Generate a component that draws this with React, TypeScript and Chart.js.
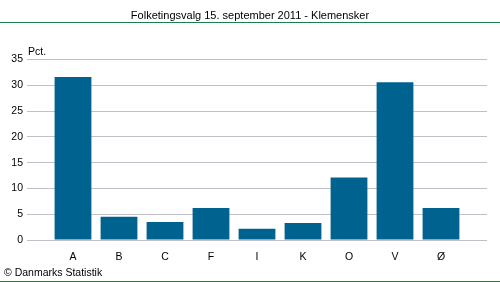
import React, { useEffect, useRef } from "react";
import { Chart, registerables } from "chart.js";

Chart.register(...registerables);

const categories = ["A", "B", "C", "F", "I", "K", "O", "V", "Ø"];
const values = [31.6, 4.5, 3.5, 6.2, 2.2, 3.3, 12.1, 30.6, 6.2];
const yTicks = [0, 5, 10, 15, 20, 25, 30, 35];
const titleText = "Folketingsvalg 15. september 2011 - Klemensker";
const unitText = "Pct.";
const sourceText = "© Danmarks Statistik";

const FONT = "'Liberation Sans', Arial, sans-serif";
const BAR = "#00638F";
const GRID = "#C0C0C8";
const GREEN = "#1A8048";

const decorPlugin = {
  id: "decor",
  afterDraw(chart: any) {
    const ctx = chart.ctx as CanvasRenderingContext2D;
    const w = chart.width;
    const h = chart.height;
    const area = chart.chartArea;
    ctx.save();
    ctx.fillStyle = "#000";
    ctx.font = `11px ${FONT}`;
    ctx.textAlign = "center";
    ctx.textBaseline = "alphabetic";
    ctx.fillText(titleText, w / 2, 19);
    ctx.strokeStyle = GREEN;
    ctx.lineWidth = 1;
    ctx.beginPath();
    ctx.moveTo(0, 22.5);
    ctx.lineTo(w, 22.5);
    ctx.moveTo(0, h - 0.5);
    ctx.lineTo(w, h - 0.5);
    ctx.stroke();
    ctx.font = `10.5px ${FONT}`;
    ctx.textAlign = "left";
    ctx.fillText(unitText, area.left + 1, 55);
    ctx.fillText(sourceText, 4, 275.5);
    ctx.restore();
  },
};

export default function App() {
  const ref = useRef<HTMLCanvasElement | null>(null);
  useEffect(() => {
    if (!ref.current) return;
    const chart = new Chart(ref.current, {
      type: "bar",
      data: {
        datasets: [
          {
            data: values.map((v, i) => ({ x: i, y: v })),
            backgroundColor: BAR,
            borderWidth: 0,
            barPercentage: 1,
            categoryPercentage: 0.8,
          },
        ],
      },
      options: {
        responsive: false,
        animation: false,
        devicePixelRatio: 1,
        layout: { padding: { top: 59.5, right: 13, left: 0, bottom: 0 } },
        plugins: {
          legend: { display: false },
          tooltip: { enabled: false },
          title: { display: false },
        },
        scales: {
          x: {
            type: "linear",
            offset: false,
            min: -1,
            max: categories.length,
            grid: { display: false, offset: false },
            border: { display: false },
            afterFit: (s: any) => {
              s.height = 42;
            },
            afterBuildTicks: (s: any) => {
              s.ticks = categories.map((_, i) => ({ value: i }));
            },
            ticks: {
              autoSkip: false,
              maxRotation: 0,
              padding: 3,
              color: "#000",
              font: { family: FONT, size: 10.5 },
              callback: (v: any) => categories[v as number] ?? "",
            },
          },
          y: {
            min: 0,
            max: 35,
            afterFit: (s: any) => {
              s.width = 27;
            },
            afterBuildTicks: (s: any) => {
              s.ticks = yTicks.map((v) => ({ value: v }));
            },
            grid: { color: GRID, drawTicks: false, lineWidth: 1 },
            border: { display: false },
            ticks: {
              padding: 4,
              color: "#000",
              font: { family: FONT, size: 10.5 },
            },
          },
        },
      },
      plugins: [decorPlugin],
    } as any);
    return () => chart.destroy();
  }, []);
  return (
    <div style={{ position: "absolute", left: 0, top: 0, width: 500, height: 282, background: "#fff" }}>
      <canvas ref={ref} width={500} height={282} />
    </div>
  );
}
